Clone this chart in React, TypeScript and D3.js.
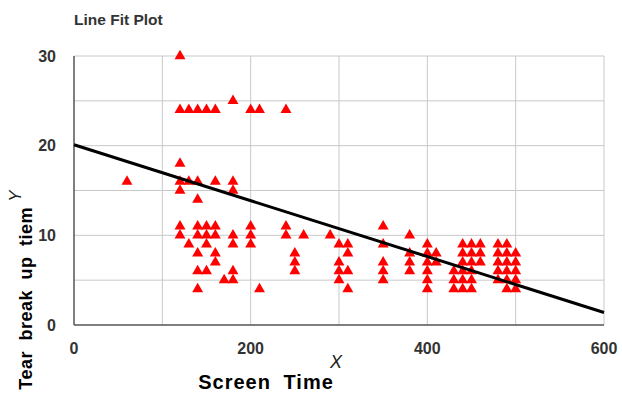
import React from 'react';
import * as d3 from 'd3';

// Screen time (x) vs tear break up time (y)
const screenTime = [
  60,
  120, 120, 120, 120, 120, 120, 120,
  130, 130, 130,
  140, 140, 140, 140, 140, 140, 140, 140,
  150, 150, 150, 150, 150,
  160, 160, 160, 160, 160, 160,
  170,
  180, 180, 180, 180, 180, 180, 180,
  200, 200, 200, 200,
  210, 210,
  240, 240, 240,
  250, 250, 250,
  260,
  290,
  300, 300, 300, 300,
  310, 310, 310, 310,
  350, 350, 350, 350, 350,
  380, 380, 380, 380,
  400, 400, 400, 400, 400, 400,
  410, 410,
  430, 430, 430,
  440, 440, 440, 440, 440, 440,
  450, 450, 450, 450, 450, 450,
  460, 460, 460,
  480, 480, 480, 480, 480,
  490, 490, 490, 490, 490, 490,
  500, 500, 500, 500, 500,
];
const breakUpTime = [
  16,
  30, 24, 18, 16, 15, 11, 10,
  24, 16, 9,
  24, 16, 14, 11, 10, 8, 6, 4,
  24, 11, 10, 9, 6,
  24, 16, 11, 10, 8, 7,
  5,
  25, 16, 15, 10, 9, 6, 5,
  24, 11, 10, 9,
  24, 4,
  24, 11, 10,
  8, 7, 6,
  10,
  10,
  9, 7, 6, 5,
  9, 8, 6, 4,
  11, 9, 7, 6, 5,
  10, 8, 7, 6,
  9, 8, 7, 6, 5, 4,
  8, 7,
  6, 5, 4,
  9, 8, 7, 6, 5, 4,
  9, 8, 7, 6, 5, 4,
  9, 8, 7,
  9, 8, 7, 6, 5,
  9, 8, 7, 6, 5, 4,
  8, 7, 6, 5, 4,
];

// fitted line ends (x, predicted y)
const fitX = [0, 600];
const fitY = [20.1, 1.4];

const xTicks = [0, 200, 400, 600];
const yTicks = [0, 10, 20, 30];
const xGrid = [100, 200, 300, 400, 500, 600];
const yGrid = [5, 10, 15, 20, 25, 30];

const App = () => {
  const width = 622;
  const height = 394;
  const marginLeft = 74;
  const marginRight = 18;
  const marginTop = 56;
  const marginBottom = 69;

  const x = d3.scaleLinear([0, 600], [marginLeft, width - marginRight]);
  const y = d3.scaleLinear([0, 30], [height - marginBottom, marginTop]);

  const tri = d3.symbol(d3.symbolTriangle, 52)();
  const line = d3.line<number>()
    .x((d, i) => x(fitX[i]))
    .y(d => y(d));

  const font = '"Liberation Sans", Arial, sans-serif';
  const points = screenTime.map((s, i) => [s, breakUpTime[i]]);

  return (
    <svg width={width} height={height} viewBox={`0 0 ${width} ${height}`}
      style={{ position: 'absolute', left: 0, top: 0, background: '#fff' }}
      fontFamily={font}>
      <text x={74} y={25} fontSize={15.5} fontWeight="bold" fill="#333">Line Fit Plot</text>

      {xGrid.map(t => (
        <line key={'gx' + t} x1={x(t)} x2={x(t)} y1={y(0)} y2={y(30)} stroke="#c8c8c8" strokeWidth={1} />
      ))}
      {yGrid.map(t => (
        <line key={'gy' + t} x1={x(0)} x2={x(600)} y1={y(t)} y2={y(t)} stroke="#c8c8c8" strokeWidth={1} />
      ))}

      {/* axes */}
      <line x1={x(0)} x2={x(0)} y1={y(0)} y2={y(30)} stroke="#555" strokeWidth={1.5} />
      <line x1={x(0)} x2={x(600)} y1={y(0)} y2={y(0)} stroke="#555" strokeWidth={1.5} />

      {yTicks.map(t => (
        <text key={'yt' + t} x={56} y={y(t)} dy="0.36em" textAnchor="end" fontSize={16} fontWeight="bold" fill="#333">{t}</text>
      ))}
      {xTicks.map(t => (
        <text key={'xt' + t} x={x(t)} y={354} textAnchor="middle" fontSize={16} fontWeight="bold" fill="#333">{t}</text>
      ))}

      {points.map(([px, py], i) => (
        <path key={i} d={tri} transform={`translate(${x(px)},${y(py)})`} fill="#ff0000" />
      ))}

      <path d={line(fitY) || ''} fill="none" stroke="#000" strokeWidth={3} />

      <text x={336} y={368} textAnchor="middle" fontSize={18} fontStyle="italic" fill="#222">X</text>
      <text x={266} y={389} textAnchor="middle" fontSize={20} fontWeight="bold" fill="#000" letterSpacing={1} wordSpacing={6}>Screen Time</text>

      <text transform="translate(21,196) rotate(-90)" textAnchor="middle" fontSize={17} fontStyle="italic" fill="#222">Y</text>
      <text transform="translate(32,207) rotate(-90)" textAnchor="end" fontSize={18} fontWeight="bold" fill="#000" letterSpacing={0.5} wordSpacing={5}>Tear break up tiem</text>
    </svg>
  );
};

export default App;
